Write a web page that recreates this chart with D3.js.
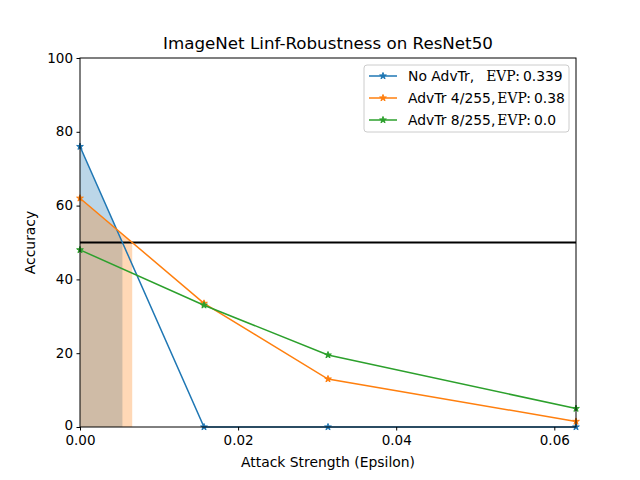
<!DOCTYPE html>
<html>
<head>
<meta charset="utf-8">
<script src="https://cdn.jsdelivr.net/npm/d3@7"></script>
<style>
  body { margin: 0; background: #fff; }
  svg text { font-family: "DejaVu Sans", sans-serif; }
</style>
</head>
<body>
<div id="chart"></div>
<script>
// attack strengths (epsilon)
var epsilons = [0, 4 / 255, 8 / 255, 16 / 255];
var seriesNames = ["No AdvTr,", "AdvTr 4/255,", "AdvTr 8/255,"];
var seriesEvp = ["0.339", "0.38", "0.0"];
var accNoAdv = [76, 0, 0, 0];
var accAdv4 = [62, 33.5, 13, 1.5];
var accAdv8 = [48, 33, 19.5, 5];
var colors = ["#1f77b4", "#ff7f0e", "#2ca02c"];
var xTicks = [0, 0.02, 0.04, 0.06];
var yTicks = [0, 20, 40, 60, 80, 100];
var threshold = 50;

var width = 640, height = 480;
var margin = {left: 80, right: 64, top: 58, bottom: 53};
var plotW = width - margin.left - margin.right,
    plotH = height - margin.top - margin.bottom;

var svg = d3.select("#chart").append("svg")
    .attr("width", width)
    .attr("height", height);

var x = d3.scaleLinear().domain([0, 16 / 255]).range([0, plotW]);
var y = d3.scaleLinear().domain([0, 100]).range([plotH, 0]);

var g = svg.append("g")
    .attr("transform", "translate(" + margin.left + "," + margin.top + ")");

var allSeries = [accNoAdv, accAdv4, accAdv8];

// shaded area under each curve until it drops below the threshold
allSeries.forEach(function (vals, i) {
    var pts = [];
    for (var k = 0; k < vals.length; k++) {
        if (vals[k] >= threshold) {
            pts.push([epsilons[k], vals[k]]);
        } else {
            if (k > 0 && vals[k - 1] >= threshold) {
                var t = (vals[k - 1] - threshold) / (vals[k - 1] - vals[k]);
                pts.push([epsilons[k - 1] + t * (epsilons[k] - epsilons[k - 1]), threshold]);
            }
            break;
        }
    }
    if (pts.length < 2) return;
    var area = d3.area()
        .x(function (d) { return x(d[0]); })
        .y0(y(0))
        .y1(function (d) { return y(d[1]); });
    g.append("path")
        .attr("d", area(pts))
        .attr("fill", colors[i])
        .attr("fill-opacity", 0.3);
});

// threshold line
g.append("line")
    .attr("x1", 0).attr("x2", plotW)
    .attr("y1", y(threshold)).attr("y2", y(threshold))
    .attr("stroke", "#000").attr("stroke-width", 2);

var line = d3.line()
    .x(function (d, k) { return x(epsilons[k]); })
    .y(function (d) { return y(d); });

var star = d3.symbol().type(d3.symbolStar).size(14);

allSeries.forEach(function (vals, i) {
    g.append("path")
        .attr("d", line(vals))
        .attr("fill", "none")
        .attr("stroke", colors[i])
        .attr("stroke-width", 1.5);
    g.selectAll(".m" + i)
        .data(vals)
        .enter().append("path")
        .attr("class", "m" + i)
        .attr("d", star)
        .attr("transform", function (d, k) {
            return "translate(" + x(epsilons[k]) + "," + y(d) + ")";
        })
        .attr("fill", colors[i])
        .attr("stroke", colors[i]);
});

// frame
g.append("rect")
    .attr("width", plotW).attr("height", plotH)
    .attr("fill", "none").attr("stroke", "#000").attr("stroke-width", 1);

var xAxis = d3.axisBottom(x).tickValues(xTicks).tickSize(3.5).tickPadding(3.5)
    .tickFormat(d3.format(".2f"));
var gx = g.append("g").attr("transform", "translate(0," + plotH + ")").call(xAxis);
var yAxis = d3.axisLeft(y).tickValues(yTicks).tickSize(3.5).tickPadding(3.5);
var gy = g.append("g").call(yAxis);
[gx, gy].forEach(function (a) {
    a.select(".domain").remove();
    a.selectAll("text").attr("font-size", 13.5).attr("fill", "#000")
        .style("font-family", "DejaVu Sans");
    a.selectAll("line").attr("stroke", "#000");
});
gx.selectAll("text").attr("dy", "0.85em");
gy.selectAll("text").attr("dy", "0.3em");
gy.selectAll(".tick").filter(function (d) { return d === 0; })
    .select("text").attr("dy", "0.2em");

svg.append("text")
    .attr("x", margin.left + plotW / 2).attr("y", 49)
    .attr("text-anchor", "middle").attr("font-size", 16.7)
    .text("ImageNet Linf-Robustness on ResNet50");

svg.append("text")
    .attr("x", margin.left + plotW / 2).attr("y", 467)
    .attr("text-anchor", "middle").attr("font-size", 13.9)
    .text("Attack Strength (Epsilon)");

svg.append("text")
    .attr("transform", "translate(35," + (margin.top + plotH / 2) + ") rotate(-90)")
    .attr("text-anchor", "middle").attr("font-size", 13.9)
    .text("Accuracy");

// legend
var leg = svg.append("g").attr("transform", "translate(364,65)");
leg.append("rect")
    .attr("width", 205).attr("height", 67).attr("rx", 3)
    .attr("fill", "#fff").attr("fill-opacity", 0.8)
    .attr("stroke", "#ccc");
seriesNames.forEach(function (name, i) {
    var ly = 11 + i * 22;
    leg.append("line")
        .attr("x1", 5).attr("x2", 33).attr("y1", ly).attr("y2", ly)
        .attr("stroke", colors[i]).attr("stroke-width", 1.5);
    leg.append("path").attr("d", star)
        .attr("transform", "translate(19," + ly + ")")
        .attr("fill", colors[i]).attr("stroke", colors[i]);
    var t = leg.append("text")
        .attr("x", 44).attr("y", ly + 5).attr("font-size", 13.9);
    t.append("tspan").text(name);
    t.append("tspan").attr("dx", i === 0 ? 12 : 2)
        .style("font-family", "DejaVu Serif").text("EVP:");
    t.append("tspan").attr("dx", 3).text(seriesEvp[i]);
});
</script>
</body>
</html>
